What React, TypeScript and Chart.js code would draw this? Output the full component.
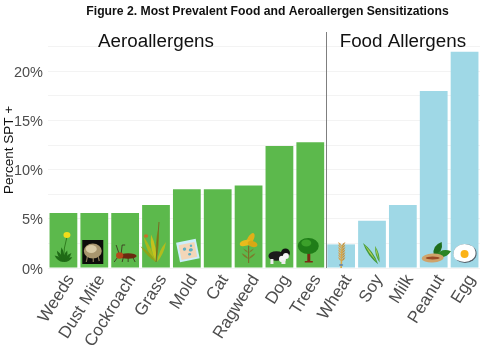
import React, { useEffect, useRef } from "react";
import { Chart, registerables } from "chart.js";

Chart.register(...registerables);

const categories = ["Weeds", "Dust Mite", "Cockroach", "Grass", "Mold", "Cat", "Ragweed", "Dog", "Trees", "Wheat", "Soy", "Milk", "Peanut", "Egg"];
const percentValues = [5.6, 5.6, 5.6, 6.4, 8, 8, 8.4, 12.4, 12.8, 2.4, 4.8, 6.4, 18, 22];
const groupOf = ["a", "a", "a", "a", "a", "a", "a", "a", "a", "f", "f", "f", "f", "f"];
const yTicks = [0, 2.5, 5, 7.5, 10, 12.5, 15, 17.5, 20, 22.5];
const GREEN = "#5cb94c";
const BLUE = "#9fd8e6";
const FONT = '"Liberation Sans", Arial, sans-serif';

type C = CanvasRenderingContext2D;

function leaf(c: C, x: number, y: number, len: number, ang: number, w: number, col: string) {
  c.save();
  c.translate(x, y);
  c.rotate(ang);
  c.fillStyle = col;
  c.beginPath();
  c.moveTo(0, 0);
  c.quadraticCurveTo(len / 2, -w, len, 0);
  c.quadraticCurveTo(len / 2, w, 0, 0);
  c.fill();
  c.restore();
}
function ell(c: C, x: number, y: number, rx: number, ry: number, col: string, rot = 0) {
  c.fillStyle = col;
  c.beginPath();
  c.ellipse(x, y, rx, ry, rot, 0, Math.PI * 2);
  c.fill();
}
function stroke(c: C, col: string, w: number, pts: number[]) {
  c.strokeStyle = col;
  c.lineWidth = w;
  c.beginPath();
  c.moveTo(pts[0], pts[1]);
  for (let i = 2; i < pts.length; i += 2) c.lineTo(pts[i], pts[i + 1]);
  c.stroke();
}

// Each icon is drawn around (0,0) = the bar centre at the zero baseline.
const icons: Record<string, (c: C) => void> = {
  Weeds(c) {
    stroke(c, "#2f7d1e", 1, [0, -7, 1, -20, 3.5, -31]);
    ell(c, 3.5, -33, 3.5, 3, "#f2dc1a");
    [
      [-2.5, 11],
      [-2.1, 13],
      [-1.7, 15],
      [-1.25, 12],
      [-0.85, 12],
      [-0.5, 10],
    ].forEach(([a, l]) => leaf(c, 0, -6, l, a, 3.2, "#1f6b16"));
  },
  "Dust Mite"(c) {
    c.fillStyle = "#0c0c0a";
    c.fillRect(-12, -28, 21, 24);
    ell(c, -1.5, -17, 9, 7.5, "#a8966e");
    ell(c, -3, -19, 5.5, 4, "#d8cba6");
    stroke(c, "#8a7a58", 1.2, [-7, -11, -8, -6]);
    stroke(c, "#8a7a58", 1.2, [-1, -10, -1, -6]);
    stroke(c, "#8a7a58", 1.2, [4, -11, 5, -7]);
  },
  Cockroach(c) {
    stroke(c, "#3a2a1a", 0.8, [-6, -14, -9, -23]);
    stroke(c, "#3a2a1a", 0.8, [-4, -14, -3, -23, 0, -23]);
    stroke(c, "#3a2a1a", 0.8, [-8, -10, -11, -6]);
    stroke(c, "#3a2a1a", 0.8, [-2, -10, -3, -6]);
    stroke(c, "#3a2a1a", 0.8, [3, -10, 3, -6]);
    stroke(c, "#3a2a1a", 0.8, [8, -10, 10, -6]);
    ell(c, 3, -12, 8.5, 2.8, "#6b2a10");
    ell(c, -5.5, -12.5, 3.6, 3.2, "#b5481a");
  },
  Grass(c) {
    leaf(c, -1, -6, 28, -2.0, 3.4, "#a9b81c");
    leaf(c, 0, -6, 34, -1.5, 3, "#7e8f16");
    leaf(c, 0, -6, 22, -2.35, 3, "#8ea51a");
    leaf(c, 1, -6, 22, -1.15, 3.2, "#b2bc1e");
    leaf(c, 0, -6, 28, -1.75, 4, "#c4c21e");
    stroke(c, "#7a6b22", 1, [0, -6, 3, -46]);
    ell(c, -10, -32, 2.2, 1.7, "#c8702a");
  },
  Mold(c) {
    c.save();
    c.translate(1, -17.5);
    c.rotate(-0.2);
    c.fillStyle = "#cdeefb";
    c.fillRect(-10, -10, 20, 20);
    c.fillStyle = "#f3d6b8";
    c.fillRect(-8, -7, 16, 15);
    ell(c, -3, -2, 1.7, 1.7, "#5fb0c4");
    ell(c, 3, 0, 2, 1.6, "#5fb0c4");
    ell(c, 1, 4, 1.6, 1.3, "#5fb0c4");
    ell(c, 4, -4, 1.2, 1.2, "#5fb0c4");
    c.restore();
  },
  Cat() {},
  Ragweed(c) {
    stroke(c, "#7a6f2a", 1.2, [0, -5, 0, -22]);
    leaf(c, 0, -9, 9, -0.7, 1.8, "#7d7a2c");
    leaf(c, 0, -9, 9, -2.45, 1.8, "#7d7a2c");
    leaf(c, 0, -15, 7, -0.7, 1.5, "#7d7a2c");
    leaf(c, 0, -15, 7, -2.45, 1.5, "#7d7a2c");
    ell(c, 2, -29, 3, 6.5, "#e0b018", 0.5);
    ell(c, -3.5, -25, 5.5, 3, "#e8bb1c", -0.3);
    ell(c, 4, -24, 5, 3, "#d9a814", 0.3);
  },
  Dog(c) {
    ell(c, -3, -12, 8, 4.8, "#1c1c1c");
    ell(c, 6, -15, 4.5, 4.5, "#111");
    ell(c, 6.5, -12, 3, 3, "#f4f4f4");
    ell(c, 3, -9, 3.5, 3.2, "#f4f4f4");
    c.fillStyle = "#eee";
    c.fillRect(2, -8, 4, 4);
    c.fillRect(-9, -9, 3, 5);
  },
  Trees(c) {
    c.fillStyle = "#7a2c14";
    c.fillRect(-3, -18, 3, 12);
    c.fillRect(-5.5, -7, 8, 1.5);
    ell(c, -2, -22, 10.5, 8, "#1f7d18");
    ell(c, -4, -25, 5, 3.5, "#3ba02a");
  },
  Wheat(c) {
    stroke(c, "#d9a94a", 1.6, [0, 0, 1, -23]);
    for (let i = 0; i < 7; i++) {
      leaf(c, 0.5, -7 - i * 2.5, 5.5, -2.3, 1.6, "#d9a14a");
      leaf(c, 0.5, -7 - i * 2.5, 5.5, -0.8, 1.6, "#c9913a");
    }
    ell(c, 0, -3, 2.2, 1, "#6b8aa8");
  },
  Soy(c) {
    leaf(c, -9, -25, 26, 0.95, 4, "#3f9a3a");
    leaf(c, -8, -24, 22, 0.95, 1.6, "#b6cc5a");
    leaf(c, 3, -22, 17, 1.3, 3, "#4fa644");
    leaf(c, 3, -22, 14, 1.3, 1, "#b6cc5a");
  },
  Milk() {},
  Peanut(c) {
    leaf(c, 0, -12, 16, -1.05, 7, "#1f6e1c");
    leaf(c, 2, -12, 16, -0.3, 6.5, "#2b8424");
    ell(c, -1, -10, 11, 4.5, "#cfa36a", -0.05);
    ell(c, -1, -10, 7, 1.5, "#9a4a26");
  },
  Egg(c) {
    ell(c, 0.5, -14.5, 11.5, 9.5, "#55606a");
    ell(c, 0, -15, 11, 9, "#ffffff");
    ell(c, -5, -13, 6, 5.5, "#ffffff");
    ell(c, 5, -18, 5, 4.5, "#ffffff");
    ell(c, 0, -14, 4, 4, "#fbb317");
  },
};

const overlay = {
  id: "overlay",
  afterDatasetsDraw(chart: any) {
    const { ctx, scales, width } = chart;
    const x = scales.x;
    const y = scales.y;
    ctx.save();
    categories.forEach((name, i) => {
      ctx.save();
      ctx.translate(x.getPixelForValue(i), y.getPixelForValue(0));
      icons[name](ctx);
      ctx.restore();
    });
    const sep = x.getPixelForValue(8.5);
    ctx.strokeStyle = "#7f7f7f";
    ctx.lineWidth = 1;
    ctx.beginPath();
    ctx.moveTo(Math.round(sep) + 0.5, y.top);
    ctx.lineTo(Math.round(sep) + 0.5, y.bottom);
    ctx.stroke();
    ctx.fillStyle = "#111";
    ctx.textBaseline = "middle";
    ctx.textAlign = "center";
    ctx.font = `18.8px ${FONT}`;
    ctx.fillText("Aeroallergens", x.getPixelForValue(3.0), 42);
    ctx.fillText("Food Allergens", x.getPixelForValue(11.0), 42);
    ctx.font = `bold 12.2px ${FONT}`;
    ctx.fillText("Figure 2. Most Prevalent Food and Aeroallergen Sensitizations", width / 2 + 25, 12);
    ctx.restore();
  },
};

export default function App() {
  const ref = useRef<HTMLCanvasElement>(null);
  useEffect(() => {
    document.body.style.margin = "0";
    const chart = new Chart(ref.current as HTMLCanvasElement, {
      type: "bar",
      data: {
        labels: categories,
        datasets: [
          {
            data: percentValues,
            backgroundColor: groupOf.map((g) => (g === "a" ? GREEN : BLUE)),
            categoryPercentage: 1,
            barPercentage: 0.9,
          },
        ],
      },
      options: {
        animation: false,
        responsive: false,
        layout: { padding: { top: 32, right: 5, left: 0, bottom: 0 } },
        plugins: { legend: { display: false }, title: { display: false }, tooltip: { enabled: false } },
        scales: {
          x: {
            grid: { display: false },
            border: { display: false },
            afterFit: (s: any) => {
              s.height = 84;
            },
            ticks: {
              autoSkip: false,
              maxRotation: 58,
              minRotation: 58,
              color: "#4d4d4d",
              padding: -5,
              labelOffset: 7,
              font: { family: FONT, size: 17 },
            },
          },
          y: {
            min: 0,
            max: 24,
            afterBuildTicks: (s: any) => {
              s.ticks = yTicks.map((value) => ({ value }));
            },
            afterFit: (s: any) => {
              s.width = 48;
            },
            grid: { color: "#f3f3f3", lineWidth: 1, drawTicks: false },
            border: { display: false },
            title: {
              display: true,
              text: "Percent SPT +",
              color: "#111",
              padding: 1,
              font: { family: FONT, size: 13.5 },
            },
            ticks: {
              padding: 5,
              labelOffset: 1.5,
              color: "#4d4d4d",
              font: { family: FONT, size: 14.5 },
              callback: (v: any) => (Number(v) % 5 === 0 ? `${v}%` : ""),
            },
          },
        },
      },
      plugins: [overlay],
    } as any);
    return () => chart.destroy();
  }, []);
  return <canvas ref={ref} width={485} height={352} style={{ display: "block" }} />;
}
